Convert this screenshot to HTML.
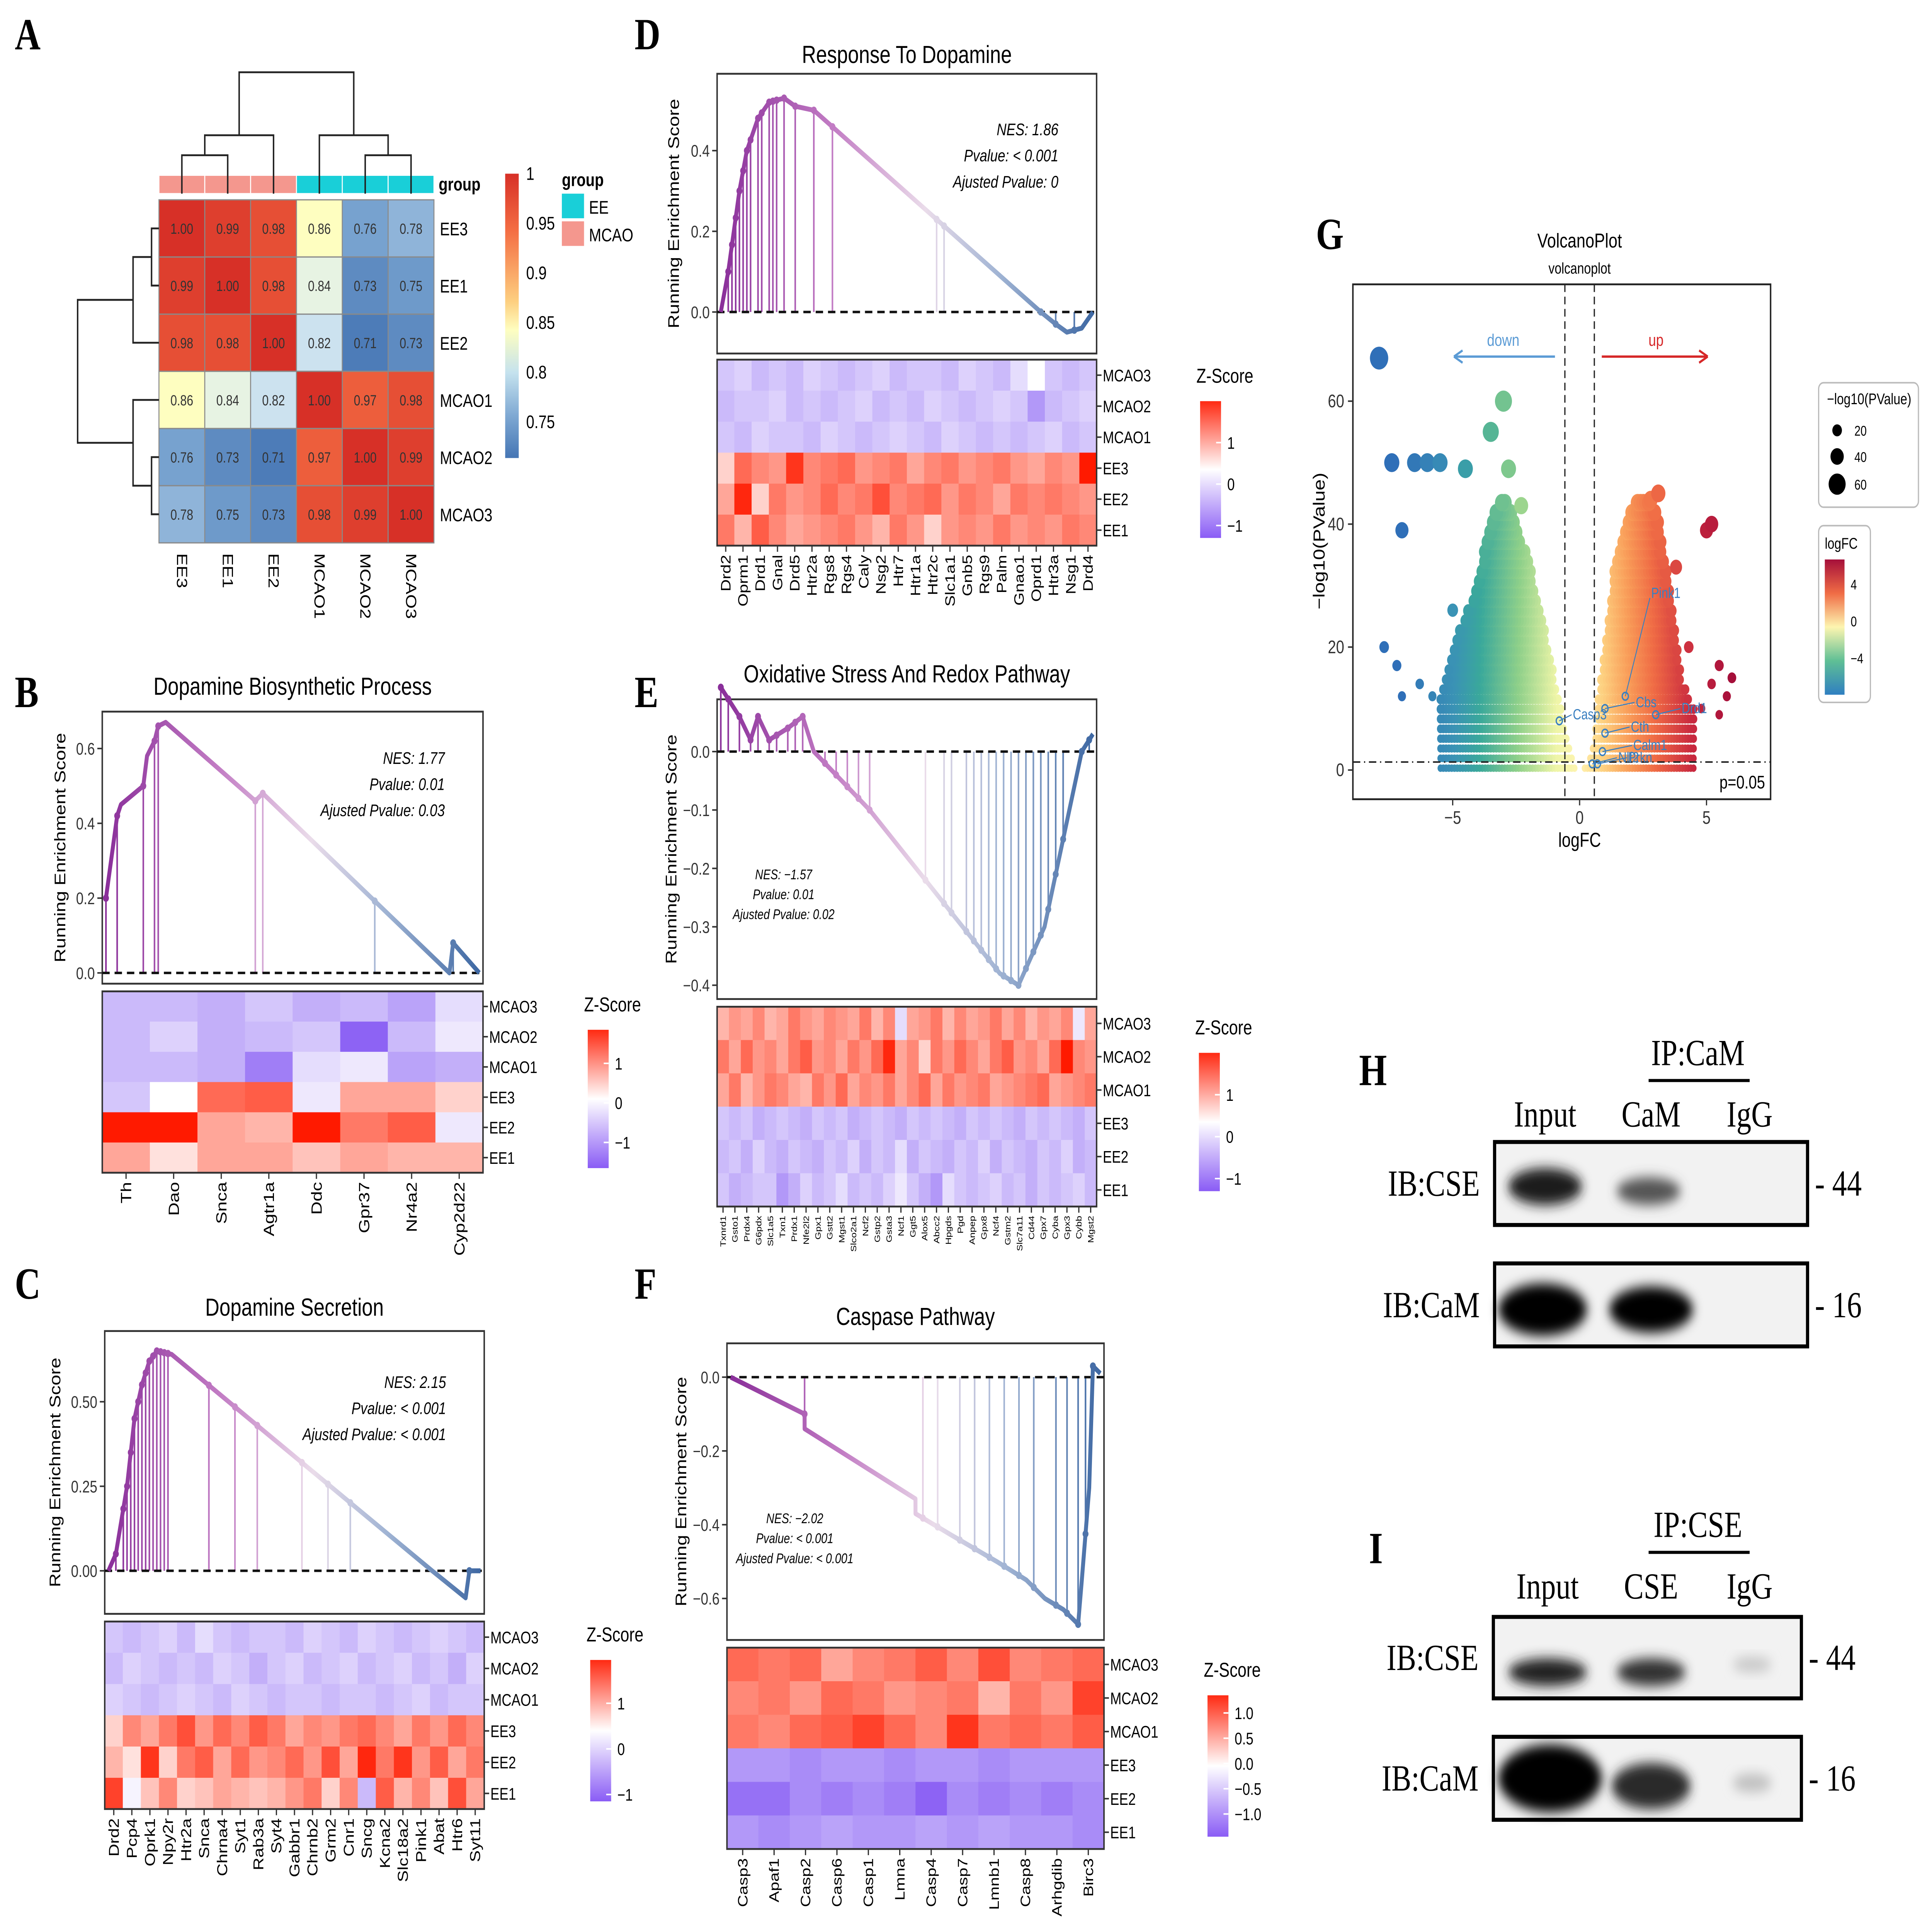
<!DOCTYPE html>
<html><head><meta charset="utf-8"><title>Figure</title>
<style>
html,body{margin:0;padding:0;background:#fff;width:100%;height:100%;overflow:hidden;}
svg{display:block;font-family:"Liberation Sans",Arial,sans-serif;width:100vw;height:100vh;}
</style></head>
<body>
<svg id="fig" width="100%" height="100%" viewBox="0 0 1568 1257" preserveAspectRatio="none" xmlns="http://www.w3.org/2000/svg">
<defs>
<linearGradient id="gseaGrad" x1="0" x2="1" y1="0" y2="0">
<stop offset="0" stop-color="#8a2f9a"/><stop offset="0.3" stop-color="#c27cc4"/><stop offset="0.55" stop-color="#eadcea"/><stop offset="0.75" stop-color="#9fb3d3"/><stop offset="1" stop-color="#3e68a3"/>
</linearGradient>
<linearGradient id="zGrad" x1="0" x2="0" y1="0" y2="1">
<stop offset="0" stop-color="#ff2a12"/><stop offset="0.5" stop-color="#ffffff"/><stop offset="1" stop-color="#8a5cf5"/>
</linearGradient>
<linearGradient id="corGrad" x1="0" x2="0" y1="0" y2="1">
<stop offset="0" stop-color="#d73027"/><stop offset="0.2" stop-color="#f46d43"/><stop offset="0.45" stop-color="#fdcf80"/><stop offset="0.55" stop-color="#fefec0"/><stop offset="0.7" stop-color="#c5e2ee"/><stop offset="0.85" stop-color="#7fa9d3"/><stop offset="1" stop-color="#4575b4"/>
</linearGradient>
<linearGradient id="fcGrad" x1="0" x2="0" y1="0" y2="1">
<stop offset="0" stop-color="#a50f3a"/><stop offset="0.25" stop-color="#f06c45"/><stop offset="0.5" stop-color="#fdf5b0"/><stop offset="0.75" stop-color="#5fbf95"/><stop offset="1" stop-color="#2f7fc1"/>
</linearGradient>
<filter id="blur4" x="-50%" y="-50%" width="200%" height="200%"><feGaussianBlur stdDeviation="4"/></filter>
</defs>
<g id="root"></g>
</svg>
<script>
// ---------- DATA ----------
const corLabels = ["EE3","EE1","EE2","MCAO1","MCAO2","MCAO3"];
const corGroups = ["MCAO","MCAO","MCAO","EE","EE","EE"];
const corValues = [
 [1.00,0.99,0.98,0.86,0.76,0.78],
 [0.99,1.00,0.98,0.84,0.73,0.75],
 [0.98,0.98,1.00,0.82,0.71,0.73],
 [0.86,0.84,0.82,1.00,0.97,0.98],
 [0.76,0.73,0.71,0.97,1.00,0.99],
 [0.78,0.75,0.73,0.98,0.99,1.00]];
const corTicks = [1,0.95,0.9,0.85,0.8,0.75];

const heatRows = ["MCAO3","MCAO2","MCAO1","EE3","EE2","EE1"];

const bGenes = ["Th","Dao","Snca","Agtr1a","Ddc","Gpr37","Nr4a2","Cyp2d22"];
const bRank = [0,0.03,0.04,0.10,0.11,0.13,0.14,0.16,0.40,0.42,0.92,0.93,1];
const bES = [0.20,0.42,0.45,0.50,0.58,0.62,0.66,0.67,0.46,0.48,0.0,0.08,0.0];
const bHits = [0.0,0.03,0.10,0.13,0.14,0.40,0.42,0.72,0.93];
const bStats = ["NES: 1.77","Pvalue: 0.01","Ajusted Pvalue: 0.03"];
const bZ = [
 [-0.6,-0.6,-0.7,-0.5,-0.7,-0.6,-0.8,-0.3],
 [-0.6,-0.4,-0.7,-0.6,-0.5,-1.3,-0.6,-0.2],
 [-0.6,-0.6,-0.7,-1.1,-0.3,-0.2,-0.8,-0.7],
 [-0.5,0.0,1.0,1.1,-0.2,0.6,0.6,0.3],
 [1.6,1.8,0.6,0.5,1.7,0.9,1.1,-0.2],
 [0.6,0.2,0.6,0.6,0.4,0.6,0.5,0.5]];

const cGenes = ["Drd2","Pcp4","Oprk1","Npy2r","Htr2a","Snca","Chrna4","Syt1","Rab3a","Syt4","Gabbr1","Chrnb2","Grm2","Cnr1","Sncg","Kcna2","Slc18a2","Pink1","Abat","Htr6","Syt11"];
const cRank = [0,0.02,0.05,0.07,0.09,0.11,0.13,0.17,0.87,0.96,0.97,1];
const cES = [0.0,0.05,0.25,0.45,0.55,0.62,0.65,0.64,0.0,-0.08,0.0,0.0];
const cHits = [0.02,0.04,0.05,0.06,0.07,0.08,0.09,0.10,0.11,0.12,0.13,0.14,0.15,0.16,0.27,0.34,0.40,0.52,0.59,0.65,0.97];
const cStats = ["NES: 2.15","Pvalue: < 0.001","Ajusted Pvalue: < 0.001"];
const cZ = [
 [-0.5,-0.6,-0.5,-0.4,-0.6,-0.3,-0.5,-0.6,-0.5,-0.5,-0.6,-0.4,-0.5,-0.6,-0.4,-0.5,-0.6,-0.5,-0.4,-0.5,-0.6],
 [-0.6,-0.4,-0.5,-0.6,-0.5,-0.6,-0.4,-0.5,-0.7,-0.5,-0.4,-0.6,-0.5,-0.4,-0.6,-0.5,-0.4,-0.6,-0.5,-0.7,-0.4],
 [-0.4,-0.5,-0.6,-0.5,-0.4,-0.5,-0.6,-0.4,-0.5,-0.6,-0.5,-0.5,-0.6,-0.5,-0.5,-0.6,-0.5,-0.4,-0.6,-0.5,-0.5],
 [0.3,0.8,0.6,0.9,1.2,0.7,1.0,0.8,1.1,0.9,0.6,0.8,0.7,0.9,1.0,0.8,0.6,0.9,0.7,1.0,0.8],
 [0.5,0.2,1.4,0.3,0.9,1.1,0.6,1.0,0.7,0.8,1.0,0.7,1.2,0.6,1.5,0.9,1.4,0.7,1.1,0.6,0.9],
 [1.3,-0.1,0.4,0.8,0.3,0.4,0.6,0.5,0.4,0.5,0.7,0.9,0.3,0.8,-0.6,1.1,0.5,0.8,0.4,1.2,0.6]];

const dGenes = ["Drd2","Oprm1","Drd1","Gnal","Drd5","Htr2a","Rgs8","Rgs4","Caly","Nsg2","Htr7","Htr1a","Htr2c","Slc1a1","Gnb5","Rgs9","Palm","Gnao1","Oprd1","Htr3a","Nsg1","Drd4"];
const dRank = [0,0.02,0.05,0.07,0.10,0.13,0.17,0.20,0.25,0.86,0.90,0.93,0.97,1];
const dES = [0.0,0.10,0.30,0.40,0.48,0.52,0.53,0.51,0.50,0.0,-0.03,-0.05,-0.04,0.0];
const dHits = [0.02,0.03,0.04,0.05,0.06,0.07,0.08,0.10,0.11,0.13,0.14,0.15,0.17,0.20,0.25,0.30,0.58,0.60,0.86,0.90,0.95];
const dStats = ["NES: 1.86","Pvalue: < 0.001","Ajusted Pvalue: 0"];
const dZ = [
 [-0.5,-0.4,-0.6,-0.5,-0.6,-0.4,-0.5,-0.6,-0.5,-0.4,-0.6,-0.5,-0.5,-0.6,-0.4,-0.5,-0.6,-0.3,0.0,-0.5,-0.6,-0.5],
 [-0.6,-0.5,-0.5,-0.4,-0.6,-0.5,-0.6,-0.5,-0.4,-0.6,-0.5,-0.6,-0.4,-0.5,-0.6,-0.5,-0.4,-0.5,-0.9,-0.6,-0.5,-0.4],
 [-0.5,-0.6,-0.4,-0.5,-0.5,-0.6,-0.4,-0.5,-0.6,-0.5,-0.4,-0.5,-0.6,-0.4,-0.5,-0.6,-0.5,-0.6,-0.5,-0.4,-0.6,-0.5],
 [0.3,1.0,0.8,0.7,1.4,0.8,0.9,1.0,0.7,0.8,0.9,0.6,0.8,0.9,0.7,0.8,0.9,0.7,0.6,0.8,0.7,1.6],
 [0.6,1.5,0.3,0.9,0.7,0.8,1.0,0.8,0.9,1.2,0.8,0.9,1.0,0.7,0.9,0.8,0.6,0.9,0.8,0.9,0.8,0.7],
 [0.9,0.5,1.1,0.8,0.6,0.7,0.8,0.9,0.7,0.5,0.9,0.7,0.3,0.7,0.8,0.7,0.9,0.7,0.8,0.7,0.9,0.8]];

const eGenes = ["Txnrd1","Gsto1","Prdx4","G6pdx","Slc1a5","Txn1","Prdx1","Nfe2l2","Gpx1","Gstt2","Mgst1","Slco2a1","Ncf2","Gstp2","Gsta3","Ncf1","Ggt5","Alox5","Abcc2","Hpgds","Pgd","Anpep","Gpx8","Ncf4","Gstm2","Slc7a11","Cd44","Gpx7","Cyba","Gpx3","Cybb","Mgst2"];
const eRank = [0,0.05,0.08,0.10,0.13,0.18,0.22,0.25,0.40,0.55,0.70,0.75,0.80,0.87,0.92,0.97,1];
const eES = [0.11,0.06,0.02,0.06,0.02,0.04,0.06,0.0,-0.10,-0.22,-0.34,-0.38,-0.40,-0.30,-0.15,0.0,0.03];
const eHits = [0.0,0.02,0.05,0.08,0.10,0.13,0.15,0.18,0.20,0.22,0.28,0.31,0.34,0.37,0.40,0.55,0.60,0.62,0.66,0.68,0.70,0.72,0.74,0.76,0.78,0.80,0.82,0.84,0.86,0.88,0.90,0.92,0.97,0.99];
const eStats = ["NES: \u22121.57","Pvalue: 0.01","Ajusted Pvalue: 0.02"];
const eZ = [
 [0.5,0.7,0.6,0.8,0.5,0.6,0.9,0.7,0.6,0.8,0.7,0.6,0.9,0.5,0.8,-0.3,0.6,0.7,0.9,0.5,0.8,0.6,0.7,0.9,0.6,0.8,0.5,0.7,0.6,0.8,-0.2,0.6],
 [0.9,0.6,1.0,0.7,0.8,0.6,0.9,1.1,0.7,0.8,0.6,0.9,0.7,1.0,1.5,0.6,0.8,0.3,0.9,0.7,1.0,0.8,0.6,0.9,1.1,0.7,0.8,0.6,1.0,1.6,0.8,0.7],
 [0.6,0.9,0.5,0.7,0.9,0.8,0.6,0.5,0.9,0.7,1.0,0.6,0.8,0.7,0.9,0.6,0.8,1.0,0.6,0.9,0.7,0.8,0.9,0.6,0.7,0.8,0.9,1.0,0.6,0.7,0.8,0.9],
 [-0.5,-0.6,-0.5,-0.7,-0.6,-0.5,-0.6,-0.7,-0.5,-0.6,-0.5,-0.7,-0.6,-0.5,-0.6,-0.7,-0.5,-0.6,-0.5,-0.6,-0.7,-0.5,-0.6,-0.5,-0.6,-0.7,-0.5,-0.6,-0.5,-0.6,-0.7,-0.5],
 [-0.6,-0.5,-0.7,-0.4,-0.6,-0.7,-0.5,-0.6,-0.7,-0.5,-0.6,-0.4,-0.7,-0.5,-0.6,-0.3,-0.7,-0.5,-0.6,-0.7,-0.5,-0.6,-0.4,-0.7,-0.5,-0.6,-0.7,-0.5,-0.6,-0.4,-0.7,-0.6],
 [-0.5,-0.7,-0.6,-0.5,-0.5,-0.9,-0.7,-0.4,-0.6,-0.5,-0.3,-0.6,-0.5,-0.6,-0.4,-0.2,-0.5,-0.7,-0.9,-0.3,-0.5,-0.6,-0.5,-0.4,-0.6,-0.5,-0.7,-0.5,-0.6,-0.5,-0.4,-0.6]];

const fGenes = ["Casp3","Apaf1","Casp2","Casp6","Casp1","Lmna","Casp4","Casp7","Lmnb1","Casp8","Arhgdib","Birc3"];
const fRank = [0,0.20,0.2001,0.50,0.5001,0.60,0.72,0.80,0.85,0.90,0.94,0.95,0.97,0.98,1];
const fES = [0.0,-0.10,-0.14,-0.33,-0.37,-0.43,-0.50,-0.55,-0.60,-0.63,-0.67,-0.55,-0.30,0.03,0.01];
const fHits = [0.20,0.52,0.56,0.62,0.66,0.70,0.74,0.78,0.82,0.88,0.91,0.94,0.96,0.98];
const fStats = ["NES: \u22122.02","Pvalue: < 0.001","Ajusted Pvalue: < 0.001"];
const fZ = [
 [1.0,0.9,1.0,0.6,0.8,0.9,1.1,0.8,1.2,0.8,0.9,1.0],
 [0.8,0.9,0.7,1.0,0.9,0.7,0.8,0.9,0.5,0.9,0.7,1.3],
 [0.9,0.8,1.0,1.1,1.3,1.0,0.8,1.4,0.9,1.0,0.9,1.1],
 [-0.9,-0.9,-1.0,-0.9,-0.9,-1.0,-0.9,-0.9,-1.0,-0.9,-0.9,-0.9],
 [-1.2,-1.2,-1.0,-1.1,-1.0,-1.1,-1.3,-1.0,-1.1,-1.0,-1.1,-1.0],
 [-0.9,-1.0,-0.9,-0.8,-0.9,-0.9,-0.8,-0.9,-0.8,-0.9,-0.9,-1.0]];

// volcano
const downEnvFC = [-0.2,-0.5,-1.0,-1.5,-2.0,-2.5,-3.0,-3.5,-4.0,-4.5,-5.0,-5.5];
const downEnvP  = [1,5,15,25,33,40,45,40,30,25,20,12];
const upEnvFC = [0.2,0.5,1.0,1.5,2.0,2.5,3.0,3.5,4.0,4.5];
const upEnvP  = [1,3,20,35,42,45,42,30,15,10];
const outFC = [-7.9,-7.4,-6.5,-6.0,-5.5,-4.5,-7.0,-3.0,-3.5,-2.3,-7.7,-7.2,-7.0,-6.3,-5.8,-5.0,-2.8,5.0,5.2,3.1,2.8,5.5,6.0,5.8,4.8,5.5,5.2,4.3,3.8];
const outP  = [67,50,50,50,50,49,39,60,55,43,20,17,12,14,12,26,49,39,40,45,44,17,15,12,10,9,14,20,33];
const geneLabels = ["Pink1","Cbs","Cth","Casp3","Drd1","Calm1","Nlf2","Prkn"];
const geneFC = [1.8,1.0,1.0,-0.8,3.0,0.9,0.5,0.7];
const geneP = [12,10,6,8,9,3,1,1];

// ---------- HELPERS ----------
const NS = "http://www.w3.org/2000/svg";
const root = document.getElementById("root");
function mk(tag, attrs, parent){
  const e = document.createElementNS(NS, tag);
  for (const k in attrs) e.setAttribute(k, attrs[k]);
  (parent||root).appendChild(e);
  return e;
}
function txt(x,y,s,size,opts,parent){
  opts = opts||{};
  const a = {x:x,y:y,"font-size":size,fill:opts.fill||"#000"};
  if(opts.anchor) a["text-anchor"]=opts.anchor;
  if(opts.weight) a["font-weight"]=opts.weight;
  if(opts.italic) a["font-style"]="italic";
  if(opts.family) a["font-family"]=opts.family;
  if(opts.transform) a["transform"]=opts.transform;
  const t = mk("text",a,parent);
  t.textContent = s;
  return t;
}
function lerpColor(a,b,t){
  const pa=[parseInt(a.slice(1,3),16),parseInt(a.slice(3,5),16),parseInt(a.slice(5,7),16)];
  const pb=[parseInt(b.slice(1,3),16),parseInt(b.slice(3,5),16),parseInt(b.slice(5,7),16)];
  const c=pa.map((v,i)=>Math.round(v+(pb[i]-v)*t));
  return "rgb("+c.join(",")+")";
}
function scaleColor(stops,v){
  if(v<=stops[0][0]) return stops[0][1];
  for(let i=1;i<stops.length;i++){
    if(v<=stops[i][0]){const t=(v-stops[i-1][0])/(stops[i][0]-stops[i-1][0]);return lerpColor(stops[i-1][1],stops[i][1],t);}
  }
  return stops[stops.length-1][1];
}
const zStops=[[-1.5,"#7a48f2"],[-1,"#a98cf7"],[0,"#ffffff"],[1,"#ff6a55"],[1.6,"#ff1a00"]];
const corStops=[[0.70,"#4575b4"],[0.77,"#7fa9d3"],[0.83,"#dcedf4"],[0.86,"#fefec0"],[0.92,"#fdae61"],[0.96,"#f46d43"],[1.0,"#d73027"]];
const gseaStops=[[0,"#8a2f9a"],[0.3,"#c27cc4"],[0.55,"#eadcea"],[0.75,"#9fb3d3"],[1,"#3e68a3"]];
const fcStops=[[-7,"#2f6fb8"],[-5,"#3a93b5"],[-4,"#3aa89b"],[-2.5,"#8fd08a"],[-1,"#eef5a8"],[0,"#fff3b0"],[1,"#fdd080"],[2,"#f99d59"],[3,"#f06c45"],[4.5,"#c8283f"],[6,"#a50f3a"]];
function interp(xs,ys,x){
  for(let i=1;i<xs.length;i++){
    if((x-xs[i-1])*(x-xs[i])<=0 && xs[i]!==xs[i-1]){const t=(x-xs[i-1])/(xs[i]-xs[i-1]);return ys[i-1]+t*(ys[i]-ys[i-1]);}
  }
  return ys[ys.length-1];
}

// ---------- PANEL LETTERS ----------
const letters=[["A",12,32],["B",12,460],["C",12,845],["D",515,32],["E",515,460],["F",515,845],["G",1068,162],["H",1103,706],["I",1111,1017]];
letters.forEach(L=>{
  const t=txt(L[1],L[2],L[0],29,{weight:"bold",family:"Liberation Serif, serif"});
  
  
});

// ---------- PANEL A ----------
(function(){
  const g=mk("g",{});
  
  
  const x0=129,y0=130,cw=37.2,ch=37.2;
  corGroups.forEach((grp,i)=>{
    const r=mk("rect",{x:x0+i*cw,y:114,width:cw,height:12,fill:grp==="EE"?"#19cfd8":"#f4978e",stroke:"#fff","stroke-width":0.8},g);
    
    
  });
  txt(356,124,"group",12,{weight:"bold"},g);
  corValues.forEach((row,i)=>row.forEach((v,j)=>{
    const r=mk("rect",{x:x0+j*cw,y:y0+i*ch,width:cw,height:ch,fill:scaleColor(corStops,v),stroke:"#8a8a8a","stroke-width":0.8},g);
    
    
    const t=txt(x0+j*cw+cw/2,y0+i*ch+ch/2+3.5,v.toFixed(2),9.5,{anchor:"middle",fill:"#333"},g);
    
    
  }));
  corLabels.forEach((l,i)=>{
    const t=txt(357,y0+i*ch+ch/2+4.5,l,12,{},g);
    
    
    const cx=x0+i*cw+cw/2-4;
    const t2=txt(cx,360,l,12,{transform:"rotate(90 "+cx+" 360)"},g);
    
    
  });
  const c=i=>x0+i*cw+cw/2, r=i=>y0+i*ch+ch/2;
  const dp="M"+c(0)+",126 V101 H"+c(1)+" V126 M"+((c(0)+c(1))/2)+",101 V88 H"+c(2)+" V126 M"+c(4)+",126 V101 H"+c(5)+" V126 M"+((c(4)+c(5))/2)+",101 V88 H"+c(3)+" V126 M"+((c(0)+c(1))/2+c(2))/2+",88 V47 H"+((c(4)+c(5))/2+c(3))/2+" V88";
  const d1=mk("path",{d:dp,fill:"none",stroke:"#222","stroke-width":1.2},g);
  
  
  const lp="M129,"+r(0)+" H123 V"+r(1)+" H129 M123,"+((r(0)+r(1))/2)+" H108 V"+r(2)+" H129 M129,"+r(4)+" H123 V"+r(5)+" H129 M123,"+((r(4)+r(5))/2)+" H108 V"+r(3)+" H129 M108,"+(((r(0)+r(1))/2+r(2))/2)+" H63 V"+(((r(4)+r(5))/2+r(3))/2)+" H108";
  const d2=mk("path",{d:lp,fill:"none",stroke:"#222","stroke-width":1.2},g);
  
  
  const cb=mk("rect",{x:410,y:113,width:11,height:185,fill:"url(#corGrad)"},g);
  
  
  corTicks.forEach(v=>{
    const y=113+(1-v)/0.05*32.3;
    txt(427,y+4,String(v),12,{},g);
  });
  txt(456,121,"group",12,{weight:"bold"},g);
  const e1=mk("rect",{x:456,y:126,width:18,height:16,fill:"#19cfd8"},g);
  
  
  const e2=mk("rect",{x:456,y:144,width:18,height:16,fill:"#f4978e"},g);
  
  
  txt(478,139,"EE",12,{},g);
  txt(478,157,"MCAO",12,{},g);
})();

// ---------- GSEA PANELS ----------
function gsea(cfg){
  const g=mk("g",{});
  
  
  const [bx0,by0,bx1,by1]=cfg.box;
  const xS=r=>bx0+3+r*(bx1-bx0-6);
  const yS=v=>cfg.y0px+(v-0)*(cfg.yRefPx-cfg.y0px)/cfg.yRef;
  const t=txt((bx0+bx1)/2,cfg.titleY,cfg.title,16,{anchor:"middle"},g);
  
  
  const frame=mk("rect",{x:bx0,y:by0,width:bx1-bx0,height:by1-by0,fill:"#fff",stroke:"#333","stroke-width":1.2},g);
  
  
  cfg.ticks.forEach((v,i)=>{
    const y=yS(v);
    mk("line",{x1:bx0-4,x2:bx0,y1:y,y2:y,stroke:"#333","stroke-width":1},g);
    const tt=txt(bx0-6,y+4,cfg.tickLabels[i],11,{anchor:"end",fill:"#333"},g);
    
    
  });
  const cy=(by0+by1)/2;
  const yt=txt(cfg.yTitleX,cy,"Running Enrichment Score",12.5,{anchor:"middle",transform:"rotate(-90 "+cfg.yTitleX+" "+cy+")"},g);
  
  
  cfg.hits.forEach(h=>{
    const v=interp(cfg.rank,cfg.es,h);
    const ln=mk("line",{x1:xS(h),x2:xS(h),y1:yS(0),y2:yS(v),stroke:scaleColor(gseaStops,h),"stroke-width":1.3},g);
    
    
  });
  const zl=mk("line",{x1:bx0,x2:bx1,y1:yS(0),y2:yS(0),stroke:"#111","stroke-width":1.6,"stroke-dasharray":"6,4"},g);
  
  
  const pts=cfg.rank.map((r,i)=>xS(r)+","+yS(cfg.es[i])).join(" ");
  const pl=mk("polyline",{points:pts,fill:"none",stroke:"url(#gseaGrad)","stroke-width":3.2,"stroke-linejoin":"round"},g);
  
  
  cfg.hits.forEach(h=>{
    const v=interp(cfg.rank,cfg.es,h);
    const c=mk("circle",{cx:xS(h),cy:yS(v),r:2.4,fill:scaleColor(gseaStops,h)},g);
    
    
  });
  cfg.stats.forEach((s,i)=>{
    const st=txt(cfg.statX,cfg.statY+i*cfg.statDy,s,cfg.statSize,{anchor:cfg.statAnchor,italic:true},g);
    
    
  });
  const [hx0,hy0,hx1,hy1]=cfg.heat;
  const nc=cfg.genes.length, cw=(hx1-hx0)/nc, rh=(hy1-hy0)/6;
  cfg.z.forEach((row,i)=>row.forEach((v,j)=>{
    const r=mk("rect",{x:hx0+j*cw,y:hy0+i*rh,width:cw+0.4,height:rh+0.4,fill:scaleColor(zStops,v)},g);
    
    
  }));
  const hf=mk("rect",{x:hx0,y:hy0,width:hx1-hx0,height:hy1-hy0,fill:"none",stroke:"#333","stroke-width":1.2},g);
  
  
  heatRows.forEach((l,i)=>{
    const y=hy0+i*rh+rh/2;
    mk("line",{x1:hx1,x2:hx1+4,y1:y,y2:y,stroke:"#333"},g);
    const rl=txt(hx1+5,y+4,l,11,{},g);
    
    
  });
  cfg.genes.forEach((gname,j)=>{
    const x=hx0+j*cw+cw/2;
    mk("line",{x1:x,x2:x,y1:hy1,y2:hy1+4,stroke:"#333"},g);
    const xx=x+cfg.labelSize*0.35;
    const gl=txt(xx,hy1+6,gname,cfg.labelSize,{anchor:"end",transform:"rotate(-90 "+xx+" "+(hy1+6)+")"},g);
    
    
  });
  const [zx,zy0,zy1]=cfg.zbar;
  const zt=txt(zx-3,zy0-12,"Z-Score",13,{},g);
  
  
  const zb=mk("rect",{x:zx,y:zy0,width:17,height:zy1-zy0,fill:"url(#zGrad)"},g);
  
  
  cfg.zticks.forEach(zt2=>{
    const y=zy0+(zy1-zy0)*(cfg.zmax-zt2[0])/(cfg.zmax-cfg.zmin);
    mk("line",{x1:zx+13,x2:zx+17,y1:y,y2:y,stroke:"#fff"},g);
    txt(zx+22,y+4,zt2[1],11,{},g);
  });
}
gsea({name:"gsea-dopamine-biosynthetic",box:[83,463,392,640],y0px:633,yRefPx:487,yRef:0.6,ticks:[0,0.2,0.4,0.6],tickLabels:["0.0","0.2","0.4","0.6"],
  title:"Dopamine Biosynthetic Process",titleY:452,yTitleX:53,rank:bRank,es:bES,hits:bHits,stats:bStats,statX:361,statY:497,statDy:17,statSize:11,statAnchor:"end",
  heat:[83,645,392,763],genes:bGenes,z:bZ,labelSize:12,zbar:[477,670,760],zmax:1.85,zmin:-1.65,zticks:[[1,"1"],[0,"0"],[-1,"\u22121"]]});
gsea({name:"gsea-dopamine-secretion",box:[85,866,393,1050],y0px:1022,yRefPx:912,yRef:0.5,ticks:[0,0.25,0.5],tickLabels:["0.00","0.25","0.50"],
  title:"Dopamine Secretion",titleY:856,yTitleX:49,rank:cRank,es:cES,hits:cHits,stats:cStats,statX:362,statY:903,statDy:17,statSize:11,statAnchor:"end",
  heat:[85,1055,393,1177],genes:cGenes,z:cZ,labelSize:11.5,zbar:[479,1080,1172],zmax:1.95,zmin:-1.15,zticks:[[1,"1"],[0,"0"],[-1,"\u22121"]]});
gsea({name:"gsea-response-to-dopamine",box:[582,48,890,230],y0px:203,yRefPx:98,yRef:0.4,ticks:[0,0.2,0.4],tickLabels:["0.0","0.2","0.4"],
  title:"Response To Dopamine",titleY:41,yTitleX:551,rank:dRank,es:dES,hits:dHits,stats:dStats,statX:859,statY:88,statDy:17,statSize:11,statAnchor:"end",
  heat:[582,234,890,355],genes:dGenes,z:dZ,labelSize:11,zbar:[974,261,350],zmax:2.0,zmin:-1.3,zticks:[[1,"1"],[0,"0"],[-1,"\u22121"]]});
gsea({name:"gsea-oxidative-stress",box:[582,455,890,650],y0px:489,yRefPx:641,yRef:-0.4,ticks:[0,-0.1,-0.2,-0.3,-0.4],tickLabels:["0.0","\u22120.1","\u22120.2","\u22120.3","\u22120.4"],
  title:"Oxidative Stress And Redox Pathway",titleY:444,yTitleX:549,rank:eRank,es:eES,hits:eHits,stats:eStats,statX:636,statY:572,statDy:13,statSize:9,statAnchor:"middle",
  heat:[582,655,890,785],genes:eGenes,z:eZ,labelSize:6.5,zbar:[973,685,775],zmax:2.0,zmin:-1.3,zticks:[[1,"1"],[0,"0"],[-1,"\u22121"]]});
gsea({name:"gsea-caspase-pathway",box:[590,874,896,1067],y0px:896,yRefPx:1040,yRef:-0.6,ticks:[0,-0.2,-0.4,-0.6],tickLabels:["0.0","\u22120.2","\u22120.4","\u22120.6"],
  title:"Caspase Pathway",titleY:862,yTitleX:557,rank:fRank,es:fES,hits:fHits,stats:fStats,statX:645,statY:991,statDy:13,statSize:9,statAnchor:"middle",
  heat:[590,1072,896,1203],genes:fGenes,z:fZ,labelSize:11,zbar:[980,1103,1195],zmax:1.35,zmin:-1.45,zticks:[[1,"1.0"],[0.5,"0.5"],[0,"0.0"],[-0.5,"\u22120.5"],[-1,"\u22121.0"]]});

// ---------- PANEL G: VOLCANO ----------
(function(){
  const g=mk("g",{});
  
  
  const bx0=1098,by0=185,bx1=1437,by1=520;
  const xS=v=>1282+v*20.6, yS=v=>501-v*4;
  const rS=p=>2.4+p*0.075;
  const fr=mk("rect",{x:bx0,y:by0,width:bx1-bx0,height:by1-by0,fill:"#fff",stroke:"#222","stroke-width":1.2},g);
  
  
  txt(1282,161,"VolcanoPlot",13,{anchor:"middle"},g);
  txt(1282,178,"volcanoplot",10,{anchor:"middle"},g);
  const pts=[];
  function fillEnv(fcs,ps,dir){
    const lo=Math.min(...fcs.map(Math.abs)), hi=Math.max(...fcs.map(Math.abs));
    for(let a=lo;a<=hi+1e-6;a+=0.11){
      const fc=dir*a, top=interp(fcs,ps,fc);
      for(let p=0.3;p<=top;p+=1.6) pts.push([fc,p]);
    }
  }
  fillEnv(downEnvFC,downEnvP,-1);
  fillEnv(upEnvFC,upEnvP,1);
  outFC.forEach((f,i)=>pts.push([f,outP[i]]));
  pts.sort((a,b)=>a[1]-b[1]);
  const pg=mk("g",{},g);
  
  
  pts.forEach(p=>{
    const c=mk("circle",{cx:xS(p[0]),cy:yS(p[1]),r:rS(p[1]),fill:scaleColor(fcStops,p[0])},pg);
    
    
  });
  [-0.58,0.58].forEach(v=>{
    const l=mk("line",{x1:xS(v),x2:xS(v),y1:by0,y2:by1,stroke:"#222","stroke-width":1,"stroke-dasharray":"5,3"},g);
    
    
  });
  const pl=mk("line",{x1:bx0,x2:bx1,y1:yS(1.3),y2:yS(1.3),stroke:"#222","stroke-width":1,"stroke-dasharray":"6,3,1,3"},g);
  
  
  txt(1414,513,"p=0.05",12,{anchor:"middle"},g);
  geneLabels.forEach((n,i)=>{
    const x=xS(geneFC[i]), y=yS(geneP[i]);
    mk("circle",{cx:x,cy:y,r:2.5,fill:"none",stroke:"#3a7fc0"},g);
    const lx = geneFC[i]<0 ? x+10 : x+20+(i%2)*4;
    mk("line",{x1:x,y1:y,x2:lx,y2:y-4+(i===0?-60:0),stroke:"#3a7fc0","stroke-width":0.7},g);
    const lt=txt(lx+1,y+(i===0?-64:-1),n,9.5,{fill:"#3a7fc0"},g);
    
    
  });
  mk("line",{x1:1262,x2:1180,y1:232,y2:232,stroke:"#5b9bd5","stroke-width":1.5},g);
  mk("path",{d:"M1180,232 l7,-4 M1180,232 l7,4",stroke:"#5b9bd5","stroke-width":1.5,fill:"none"},g);
  txt(1220,225,"down",11,{anchor:"middle",fill:"#5b9bd5"},g);
  mk("line",{x1:1300,x2:1386,y1:232,y2:232,stroke:"#d62728","stroke-width":1.5},g);
  mk("path",{d:"M1386,232 l-7,-4 M1386,232 l-7,4",stroke:"#d62728","stroke-width":1.5,fill:"none"},g);
  txt(1344,225,"up",11,{anchor:"middle",fill:"#d62728"},g);
  const xTicks=[-5,0,5], yTicks=[0,20,40,60];
  xTicks.forEach(v=>{
    mk("line",{x1:xS(v),x2:xS(v),y1:by1,y2:by1+4,stroke:"#333"},g);
    txt(xS(v),by1+16,v<0?"\u2212"+Math.abs(v):String(v),12,{anchor:"middle",fill:"#333"},g);
  });
  yTicks.forEach(v=>{
    mk("line",{x1:bx0-4,x2:bx0,y1:yS(v),y2:yS(v),stroke:"#333"},g);
    txt(bx0-7,yS(v)+4,String(v),12,{anchor:"end",fill:"#333"},g);
  });
  const xt=txt(1282,551,"logFC",13,{anchor:"middle"},g);
  
  
  const yt=txt(1075,352,"\u2212log10(PValue)",13,{anchor:"middle",transform:"rotate(-90 1075 352)"},g);
  
  
  const lg=mk("rect",{x:1476,y:249,width:81,height:81,rx:4,fill:"#fff",stroke:"#bbb"},g);
  
  
  txt(1517,263,"\u2212log10(PValue)",10,{anchor:"middle"},g);
  [[20,280],[40,297],[60,315]].forEach(s=>{
    mk("circle",{cx:1491,cy:s[1],r:rS(s[0]),fill:"#000"},g);
    txt(1505,s[1]+3.5,String(s[0]),9,{},g);
  });
  const lg2=mk("rect",{x:1476,y:342,width:42,height:115,rx:4,fill:"#fff",stroke:"#bbb"},g);
  
  
  txt(1481,357,"logFC",10,{},g);
  mk("rect",{x:1481,y:364,width:16,height:88,fill:"url(#fcGrad)"},g);
  [["4",380],["0",404],["\u22124",428]].forEach(s=>txt(1502,s[1]+3.5,s[0],9,{},g));
})();

// ---------- BLOTS H & I ----------
function blot(cfg){
  const g=mk("g",{});
  
  
  const F="Liberation Serif, serif";
  txt(cfg.ipX,cfg.ipY,cfg.ip,24,{anchor:"middle",family:F},g);
  mk("line",{x1:cfg.ipX-40,x2:cfg.ipX+42,y1:cfg.ipY+10,y2:cfg.ipY+10,stroke:"#000","stroke-width":2},g);
  cfg.lanes.forEach(l=>txt(l[1],cfg.laneY,l[0],24,{anchor:"middle",family:F},g));
  cfg.rows.forEach(r=>{
    const bg=mk("rect",{x:cfg.x0,y:r.y0,width:cfg.x1-cfg.x0,height:r.y1-r.y0,fill:"#f2f2f2",stroke:"#000","stroke-width":2.6},g);
    
    
    txt(cfg.x0-12,(r.y0+r.y1)/2+8,r.label,24,{anchor:"end",family:F},g);
    txt(cfg.x1+6,(r.y0+r.y1)/2+8,"- "+r.kd,24,{family:F},g);
    r.bands.forEach(b=>{
      const e=mk("ellipse",{cx:b[0],cy:b[1],rx:b[2],ry:b[3],fill:b[4],filter:"url(#blur4)"},g);
      
      
    });
  });
}
blot({name:"blot-ip-cam",ip:"IP:CaM",ipX:1378,ipY:693,laneY:733,lanes:[["Input",1254],["CaM",1340],["IgG",1420]],x0:1213,x1:1467,
  rows:[{y0:743,y1:797,label:"IB:CSE",kd:"44",bands:[[1254,772,30,12,"#1a1a1a"],[1338,775,26,9,"#555"]]},
        {y0:822,y1:876,label:"IB:CaM",kd:"16",bands:[[1252,852,36,17,"#000"],[1340,852,34,15,"#050505"]]}]});
blot({name:"blot-ip-cse",ip:"IP:CSE",ipX:1378,ipY:1000,laneY:1040,lanes:[["Input",1256],["CSE",1340],["IgG",1420]],x0:1212,x1:1462,
  rows:[{y0:1052,y1:1105,label:"IB:CSE",kd:"44",bands:[[1256,1088,32,9,"#222"],[1340,1088,28,9,"#333"],[1422,1083,16,5,"#c8c8c8"]]},
        {y0:1130,y1:1184,label:"IB:CaM",kd:"16",bands:[[1258,1157,42,22,"#000"],[1340,1162,32,15,"#2a2a2a"],[1422,1160,16,6,"#c0c0c0"]]}]});
</script>
</body></html>
